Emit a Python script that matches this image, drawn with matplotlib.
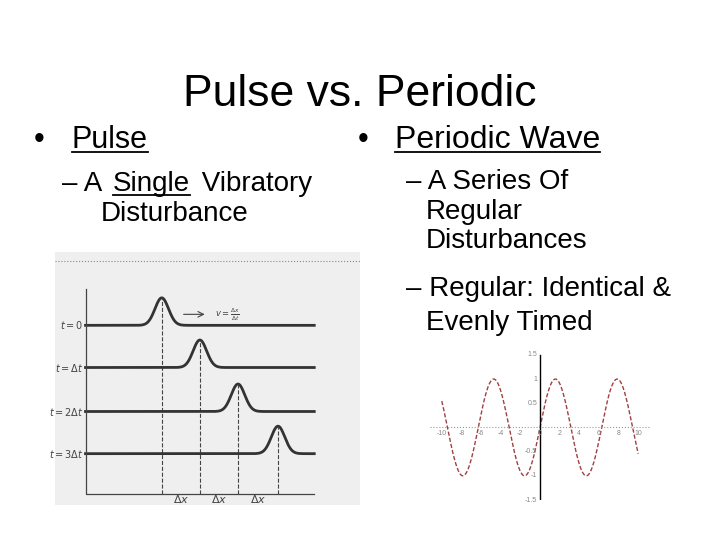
import matplotlib
matplotlib.use("Agg")
import matplotlib.pyplot as plt
import numpy as np
from matplotlib.lines import Line2D

plt.rcParams["font.family"] = ["Liberation Sans", "DejaVu Sans"]

# pulse snapshots: time labels, pulse centres (x units), baselines (y units)
PULSE_LABELS = ["$t = 0$", r"$t = \Delta t$", r"$t = 2\Delta t$", r"$t = 3\Delta t$"]
PULSE_CENTERS = [2.0, 3.0, 4.0, 5.05]
PULSE_BASES = [3.6, 2.45, 1.25, 0.1]
PULSE_HEIGHT = 0.75
PULSE_WIDTH = 0.25

# periodic wave
WAVE_AMP = 1.0
WAVE_PHASE = 0.0
WAVE_XTICKS = [-10, -8, -6, -4, -2, 0, 2, 4, 6, 8, 10]
WAVE_YTICKS = [-1.5, -1, -0.5, 0.5, 1, 1.5]

W, H = 720, 540
fig = plt.figure(figsize=(7.2, 5.4), dpi=100)
renderer = fig.canvas.get_renderer()


def pieces(x, y, parts, size, gap=0):
    """Draw text parts in a row; parts is a list of (string, underlined)."""
    for s, ul in parts:
        t = fig.text(x / W, 1 - y / H, s, fontsize=size, va="baseline")
        bb = t.get_window_extent(renderer)
        if ul:
            fig.add_artist(Line2D([bb.x0 / W, bb.x1 / W], [1 - (y + 4) / H] * 2,
                                  color="black", lw=1.3))
        x = bb.x1 + gap


fig.text(360 / W, 1 - 106 / H, "Pulse vs. Periodic", fontsize=32, ha="center", va="baseline")
pieces(34, 148, [("•", False)], 22)
pieces(72, 148, [("Pulse", True)], 22)
pieces(358, 148, [("•", False)], 22)
pieces(395, 148, [("Periodic Wave", True)], 23)
pieces(62, 191, [("– A ", False), ("Single", True), (" Vibratory", False)], 20, gap=4)
pieces(101, 221, [("Disturbance", False)], 20)
pieces(406, 189, [("– A Series Of", False)], 20)
pieces(426, 219, [("Regular", False)], 20)
pieces(426, 248, [("Disturbances", False)], 20)
pieces(406, 296, [("– Regular: Identical &", False)], 20)
pieces(426, 330, [("Evenly Timed", False)], 20)

# left: scanned pulse figure
ax = fig.add_axes([55 / W, 1 - 505 / H, 305 / W, 253 / H])
ax.set_facecolor("#efefef")
ax.set_xlim(-0.8, 7.2)
ax.set_ylim(-1.3, 5.6)
for s in ax.spines.values():
    s.set_visible(False)
ax.set_xticks([])
ax.set_yticks([])
x = np.linspace(0, 6.0, 600)
for lab, c, b in zip(PULSE_LABELS, PULSE_CENTERS, PULSE_BASES):
    ax.plot(x, b + PULSE_HEIGHT * np.exp(-((x - c) / PULSE_WIDTH) ** 2), color="#333333", lw=2.0)
    ax.plot([c, c], [-1.0, b + PULSE_HEIGHT], color="#444444", lw=0.8, ls="--")
    ax.text(-0.05, b, lab, ha="right", va="center", fontsize=7, color="#444444")
ax.plot([0, 0, 6.0], [4.6, -1.0, -1.0], color="#444444", lw=0.9)
for c0, c1 in zip(PULSE_CENTERS[:-1], PULSE_CENTERS[1:]):
    ax.text((c0 + c1) / 2, -1.25, r"$\Delta x$", ha="center", fontsize=8, color="#444444")
ax.plot([-0.8, 7.2], [5.35, 5.35], color="#888888", lw=0.8, ls=":")
ax.annotate("", xy=(3.2, 3.9), xytext=(2.5, 3.9),
            arrowprops=dict(arrowstyle="->", color="#444444", lw=0.8))
ax.text(3.4, 3.9, r"$v=\frac{\Delta x}{\Delta t}$", fontsize=6, va="center", color="#444444")

# right: periodic wave
ax2 = fig.add_axes([430 / W, 1 - 500 / H, 220 / W, 150 / H])
ax2.set_xlim(-11.2, 11.2)
ax2.set_ylim(-1.5, 1.6)
for s in ax2.spines.values():
    s.set_visible(False)
ax2.set_xticks([])
ax2.set_yticks([])
xw = np.linspace(-10, 10, 400)
ax2.plot(xw, WAVE_AMP * np.sin(xw - WAVE_PHASE), color="#a04040", lw=1.0, ls=(0, (3, 1.5)))
ax2.axhline(0, color="#999999", lw=0.8, ls=":")
ax2.plot([0, 0], [-1.5, 1.5], color="black", lw=1.0)
for t in WAVE_XTICKS:
    ax2.text(t, -0.05, str(t), fontsize=5, ha="center", va="top", color="#888888")
for t in WAVE_YTICKS:
    ax2.text(-0.3, t, str(t), fontsize=5, ha="right", va="center", color="#888888")

fig.savefig("out.png", dpi=100, facecolor="white")
